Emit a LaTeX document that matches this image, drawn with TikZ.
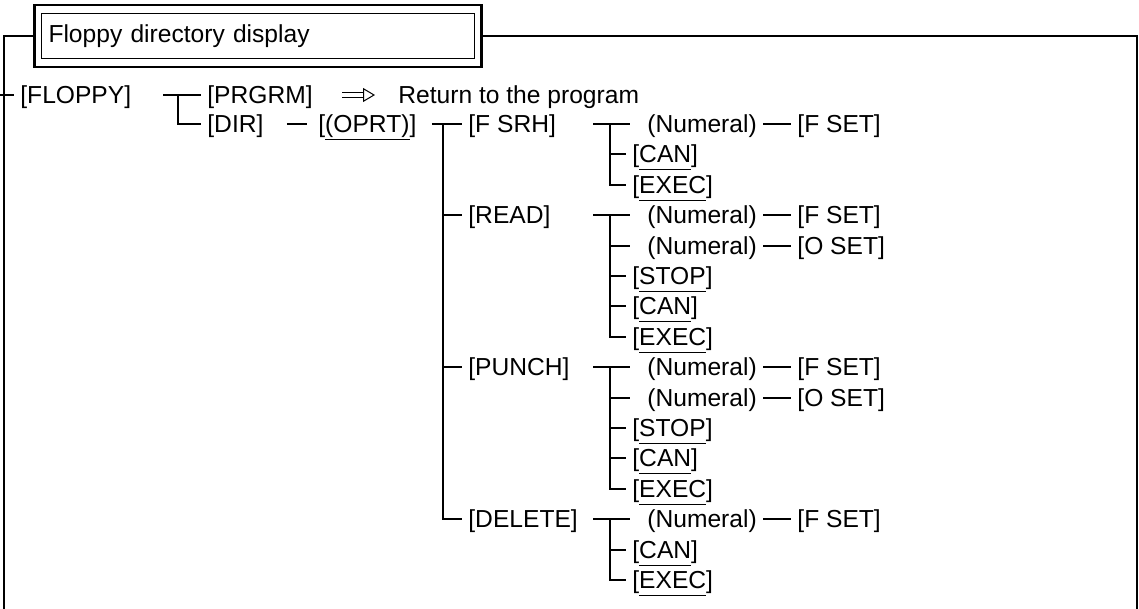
\documentclass[tikz,border=0pt]{standalone}
\usepackage{fontspec}
\setmainfont{Liberation Sans}
\usetikzlibrary{positioning,fit,arrows.meta}
\newcommand{\softkey}[1]{[\setbox0\hbox{#1}\rlap{\rule[-3.9pt]{\wd0}{0.9pt}}\box0]}
\tikzset{
  tree/.style={line width=0.9pt},
  tonum/.style={tree, shorten >=5.5pt},
  frameline/.style={line width=0.8pt},
  key/.style={anchor=west, inner xsep=3pt, inner ysep=0pt, text height=8.6pt, text depth=0pt},
  titlebox/.style={draw, line width=0.5pt, text width=209.5pt, inner xsep=3.5pt, inner ysep=0pt,
                   minimum height=22.5pt, align=left},
  titleframe/.style={draw, line width=1.2pt, inner xsep=3.25pt, inner ysep=4pt},
  goesto/.style={double, double distance=2pt, line width=0.5pt, -{Triangle[open,length=6pt,width=7pt]}},
}
\begin{document}
\begin{tikzpicture}[x=0.5pt, y=-0.5pt, font=\fontsize{12.3}{14.8}\selectfont]
\useasboundingbox (0,0) rectangle (1139,609);
% title and frame
\node[titlebox, anchor=north west] (title) at (41,13) {Floppy directory display};
\node[titleframe, fit=(title)] (titleout) {};
\coordinate (frameBL) at (4,609);
\coordinate (frameBR) at (1137,609);
\draw[frameline] (titleout.west) -| (frameBL);
\draw[frameline] (titleout.east) -| (frameBR);

% first level
\coordinate (tick) at (0,95);
\node[key] (floppy) at (14,95) {[FLOPPY]};
\draw[tree] (tick) -- (floppy.west);
\node[key] (prgrm) at (201,95) {[PRGRM]};
\node[key] (dir) at (201,124) {[DIR]};
\node[key] (ret) at (392,95) {Return to the program};
\coordinate (ja) at (178,95);
\draw[tree] ([xshift=-7.5pt]ja) -- (prgrm.west);
\draw[tree] (ja) |- (dir.west);
\draw[goesto, shorten <=11.5pt, shorten >=8.5pt] (prgrm.east) -- (ret.west);
\node[key] (oprt) at (312,124) {\softkey{(OPRT)}};
\draw[tree, shorten <=8.5pt, shorten >=2.5pt] (dir.east) -- (oprt.west);

% second level
\node[key] (fsrh) at (462,124) {[F SRH]};
\node[key] (read) at (462,215) {[READ]};
\node[key] (punch) at (462,367) {[PUNCH]};
\node[key] (delete) at (462,519) {[DELETE]};
\coordinate (jb) at (443,124);
\draw[tree, shorten <=4.5pt] (oprt.east) -- (fsrh.west);
\draw[tree] (jb) |- (delete.west);
\draw[tree] (jb |- read.west) -- (read.west);
\draw[tree] (jb |- punch.west) -- (punch.west);

% [F SRH]
\node[key] (srhNum) at (641,124) {(Numeral)};
\node[key] (srhFset) at (791,124) {[F SET]};
\node[key] (srhCan) at (626,154) {\softkey{CAN}};
\node[key] (srhExec) at (626,185) {\softkey{EXEC}};
\coordinate (jsrh) at (610,124);
\draw[tonum] ([xshift=-8.5pt]jsrh) -- (srhNum.west);
\draw[tree] (srhNum.east) -- (srhFset.west);
\draw[tree] (jsrh |- srhCan.west) -- (srhCan.west);
\draw[tree] (jsrh) |- (srhExec.west);

% [READ]
\node[key] (readNum) at (641,215) {(Numeral)};
\node[key] (readFset) at (791,215) {[F SET]};
\node[key] (readNumO) at (641,246) {(Numeral)};
\node[key] (readOset) at (791,246) {[O SET]};
\node[key] (readStop) at (626,276) {\softkey{STOP}};
\node[key] (readCan) at (626,306) {\softkey{CAN}};
\node[key] (readExec) at (626,337) {\softkey{EXEC}};
\coordinate (jread) at (610,215);
\draw[tonum] ([xshift=-8.5pt]jread) -- (readNum.west);
\draw[tree] (readNum.east) -- (readFset.west);
\draw[tonum] (jread |- readNumO.west) -- (readNumO.west);
\draw[tree] (readNumO.east) -- (readOset.west);
\draw[tree] (jread |- readStop.west) -- (readStop.west);
\draw[tree] (jread |- readCan.west) -- (readCan.west);
\draw[tree] (jread) |- (readExec.west);

% [PUNCH]
\node[key] (punchNum) at (641,367) {(Numeral)};
\node[key] (punchFset) at (791,367) {[F SET]};
\node[key] (punchNumO) at (641,398) {(Numeral)};
\node[key] (punchOset) at (791,398) {[O SET]};
\node[key] (punchStop) at (626,428) {\softkey{STOP}};
\node[key] (punchCan) at (626,458) {\softkey{CAN}};
\node[key] (punchExec) at (626,489) {\softkey{EXEC}};
\coordinate (jpunch) at (610,367);
\draw[tonum] ([xshift=-8.5pt]jpunch) -- (punchNum.west);
\draw[tree] (punchNum.east) -- (punchFset.west);
\draw[tonum] (jpunch |- punchNumO.west) -- (punchNumO.west);
\draw[tree] (punchNumO.east) -- (punchOset.west);
\draw[tree] (jpunch |- punchStop.west) -- (punchStop.west);
\draw[tree] (jpunch |- punchCan.west) -- (punchCan.west);
\draw[tree] (jpunch) |- (punchExec.west);

% [DELETE]
\node[key] (delNum) at (641,519) {(Numeral)};
\node[key] (delFset) at (791,519) {[F SET]};
\node[key] (delCan) at (626,550) {\softkey{CAN}};
\node[key] (delExec) at (626,580) {\softkey{EXEC}};
\coordinate (jdel) at (610,519);
\draw[tonum] ([xshift=-8.5pt]jdel) -- (delNum.west);
\draw[tree] (delNum.east) -- (delFset.west);
\draw[tree] (jdel |- delCan.west) -- (delCan.west);
\draw[tree] (jdel) |- (delExec.west);
\end{tikzpicture}
\end{document}
